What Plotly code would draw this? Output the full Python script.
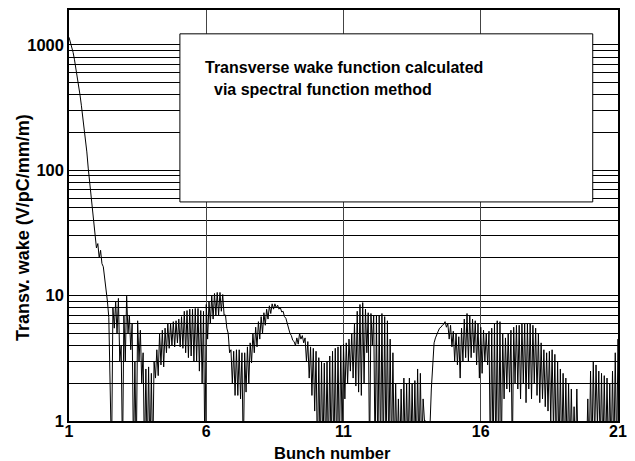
import plotly.graph_objects as go

# ---- data ----
decay_x = [1.0, 1.05, 1.1, 1.15, 1.2, 1.25, 1.3, 1.35, 1.4, 1.45, 1.5, 1.55, 1.6, 1.65,
           1.7, 1.75, 1.8, 1.85, 1.9, 1.95, 2.0, 2.05, 2.1, 2.15, 2.2, 2.25, 2.3, 2.35,
           2.4, 2.45]
decay_y = [1150, 1050, 960, 870, 760, 660, 570, 480, 400, 330, 270, 220, 178, 140,
           104, 82, 65, 52, 39, 30, 24, 26, 20, 23, 18, 17, 14, 12,
           9, 6.7]

# oscillating part: upper and lower envelope of the wake, sampled every 0.1 bunch
osc_start = 2.5
osc_step = 0.1
osc_hi = [
    2.2, 8.0, 9.0, 9.5, 4.0,                                  # 2.5 - 2.9
    7.0, 9.9, 7.0, 6.0, 3.0, 6.3, 5.3, 3.5, 2.6, 2.7,         # 3.0 - 3.9
    2.4, 3.0, 3.7, 5.0, 5.3, 5.5, 6.0, 6.0, 6.2, 6.3,         # 4.0 - 4.9
    6.5, 6.8, 7.5, 7.6, 7.8, 7.8, 7.9, 7.9, 7.6, 7.5,         # 5.0 - 5.9
    8.5, 9.0, 10.0, 10.4, 10.6, 10.6, 10.2, 7.0, 5.0, 3.7,    # 6.0 - 6.9
    3.6, 3.7, 3.7, 3.5, 3.5, 3.9, 4.2, 5.0, 5.6, 6.2,         # 7.0 - 7.9
    6.8, 7.3, 7.8, 8.3, 8.6, 8.6, 8.4, 8.0, 7.5, 6.6,         # 8.0 - 8.9
    5.6, 4.8, 4.3, 4.6, 5.0, 4.8, 4.6, 4.3, 3.9, 3.8,         # 9.0 - 9.9
    3.6, 3.2, 3.0, 2.9, 3.0, 3.3, 3.6, 3.8, 3.9, 4.0,         # 10.0 - 10.9
    4.1, 4.2, 4.5, 5.0, 6.0, 7.5, 8.5, 8.8, 7.8, 7.3,         # 11.0 - 11.9
    7.2, 7.0, 7.0, 7.0, 7.2, 6.8, 6.3, 4.5, 3.5, 2.0,         # 12.0 - 12.9
    1.5, 1.8, 2.2, 2.0, 2.2, 2.0, 2.1, 2.6, 2.4, 1.5,         # 13.0 - 13.9
    1.0, 0.8, 1.8, 4.2, 5.0, 5.5, 5.8, 6.2, 6.0, 5.8,         # 14.0 - 14.9
    5.2, 5.0, 4.7, 5.5, 6.5, 7.2, 7.0, 6.5, 6.3, 6.0,         # 15.0 - 15.9
    5.6, 5.3, 5.0, 5.2, 5.5, 6.0, 6.3, 6.2, 5.0, 4.6,         # 16.0 - 16.9
    5.0, 5.3, 5.6, 5.8, 5.8, 6.0, 6.0, 6.0, 6.0, 5.8,         # 17.0 - 17.9
    5.5, 5.0, 4.2, 3.7, 3.5, 3.6, 3.7, 3.4, 3.0, 2.6,         # 18.0 - 18.9
    2.4, 2.2, 2.0, 1.8, 1.3, 1.8, 0.6, 0.6, 0.8, 1.5,         # 19.0 - 19.9
    2.5, 3.0, 2.8, 2.5, 2.4, 2.3, 2.2, 2.0, 2.5, 3.5,         # 20.0 - 20.9
    4.5,                                                      # 21.0
]
osc_lo = [
    0.5, 5.5, 5.0, 3.0, 0.5,                                  # 2.5 - 2.9
    3.0, 5.0, 3.7, 0.5, 0.5, 3.0, 2.0, 0.5, 0.5, 0.5,         # 3.0 - 3.9
    0.5, 2.2, 2.3, 2.8, 2.7, 3.5, 3.8, 4.0, 3.9, 4.2,         # 4.0 - 4.9
    3.9, 3.8, 3.5, 3.2, 3.3, 3.0, 3.0, 2.5, 2.0, 0.5,         # 5.0 - 5.9
    4.5, 6.0, 6.5, 7.0, 7.0, 7.5, 7.0, 5.5, 3.5, 2.0,         # 6.0 - 6.9
    1.6, 1.6, 1.5, 0.5, 1.7, 2.0, 2.9, 3.5, 3.9, 4.5,         # 7.0 - 7.9
    5.0, 5.8, 6.5, 7.2, 7.8, 8.0, 7.8, 7.4, 6.8, 6.0,         # 8.0 - 8.9
    5.0, 4.4, 4.0, 4.1, 4.5, 4.2, 3.0, 2.2, 1.6, 1.2,         # 9.0 - 9.9
    0.5, 0.5, 0.5, 0.5, 0.5, 0.5, 0.5, 0.5, 0.5, 0.8,         # 10.0 - 10.9
    1.5, 2.0, 2.5, 2.2, 1.9, 1.7, 1.6, 2.0, 3.5, 0.5,         # 11.0 - 11.9
    4.0, 0.5, 0.5, 0.5, 0.5, 0.5, 0.5, 0.5, 0.5, 0.5,         # 12.0 - 12.9
    0.5, 0.5, 0.5, 0.5, 0.5, 0.5, 0.5, 0.5, 0.5, 1.0,         # 13.0 - 13.9
    0.8, 0.9, 3.0, 4.6, 5.2, 5.6, 5.9, 5.6, 4.5, 3.9,         # 14.0 - 14.9
    3.0, 2.8, 2.2, 3.0, 3.2, 3.0, 3.2, 3.5, 2.8, 2.2,         # 15.0 - 15.9
    2.4, 3.0, 2.8, 0.5, 0.5, 0.5, 0.5, 0.5, 1.5, 1.8,         # 16.0 - 16.9
    1.7, 0.5, 2.0, 1.8, 1.5, 2.0, 1.4, 1.8, 1.5, 2.0,         # 17.0 - 17.9
    1.6, 1.4, 1.5, 1.3, 1.2, 1.0, 0.8, 0.5, 0.5, 0.5,         # 18.0 - 18.9
    0.5, 0.5, 0.5, 0.5, 0.5, 0.5, 0.5, 0.5, 0.5, 0.5,         # 19.0 - 19.9
    0.5, 0.7, 0.9, 0.6, 0.5, 0.5, 0.5, 0.5, 0.5, 0.5,         # 20.0 - 20.9
    1.0,                                                      # 21.0
]

x_ticks = [1, 6, 11, 16, 21]
y_ticks = [1, 10, 100, 1000]
y_ticktext = ["1", "10", "100", "1000"]
y_minor = [m * d for d in (1, 10, 100) for m in range(2, 10)]

title_line1 = "Transverse wake function calculated"
title_line2 = "via spectral function method"
x_title = "Bunch number"
y_title = "Transv. wake (V/pC/mm/m)"

xs = list(decay_x)
ys = list(decay_y)
for i, (h, l) in enumerate(zip(osc_hi, osc_lo)):
    x0 = osc_start + osc_step * i
    xs += [round(x0, 3), round(x0 + osc_step / 2, 3)]
    ys += [h, l]

FONT = "Liberation Sans, Arial, sans-serif"

fig = go.Figure()
fig.add_trace(go.Scatter(x=xs, y=ys, mode="lines",
                         line=dict(color="black", width=1), showlegend=False))

# page body has an 8px margin, so the figure is shifted by 8px
fig.update_layout(
    width=627, height=453,
    margin=dict(l=61, r=17, t=0, b=40),
    paper_bgcolor="white", plot_bgcolor="white",
    font=dict(family=FONT, color="black", size=16, weight="bold"),
    xaxis=dict(range=[1, 21], tickvals=x_ticks, showgrid=True, gridcolor="#444444",
               gridwidth=1, zeroline=False, showline=True, mirror=True,
               linecolor="black", linewidth=1.5, ticks="", ticklabelstandoff=-5,
               tickfont=dict(family=FONT, size=16, weight="bold")),
    yaxis=dict(type="log", range=[0, 3.278], tickvals=y_ticks, ticktext=y_ticktext,
               showgrid=True, gridcolor="black", gridwidth=1, zeroline=False,
               showline=True, mirror=True, linecolor="black", linewidth=1.5, ticks="",
               tickfont=dict(family=FONT, size=16.5, weight="bold"),
               minor=dict(tickvals=y_minor, showgrid=True, gridcolor="black",
                          gridwidth=1, ticks="")),
)

fig.add_shape(type="rect", xref="paper", yref="paper",
              x0=0.202, x1=0.954, y0=0.533, y1=0.942,
              fillcolor="white", line=dict(color="black", width=1), layer="above")

fig.add_annotation(text=title_line1, xref="paper", yref="paper", x=0.244, y=0.860,
                   xanchor="left", yanchor="middle", showarrow=False,
                   font=dict(family=FONT, size=16, weight="bold"))
fig.add_annotation(text=title_line2, xref="paper", yref="paper", x=0.2605, y=0.806,
                   xanchor="left", yanchor="middle", showarrow=False,
                   font=dict(family=FONT, size=16, weight="bold"))
fig.add_annotation(text=x_title, xref="paper", yref="paper", x=0.48, y=-0.079,
                   xanchor="center", yanchor="middle", showarrow=False,
                   font=dict(family=FONT, size=16.5, weight="bold"))
fig.add_annotation(text=y_title, xref="paper", yref="paper", x=-0.0838, y=0.472,
                   xanchor="center", yanchor="middle", showarrow=False, textangle=-90,
                   font=dict(family=FONT, size=18, weight="bold"))

fig.write_html("out.html")
